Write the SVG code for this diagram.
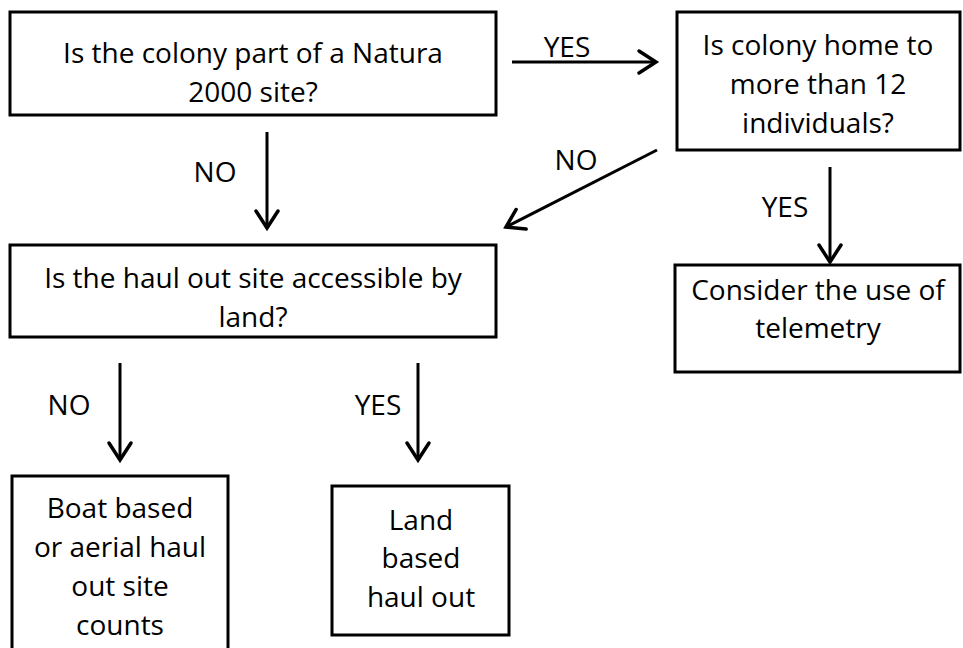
<svg xmlns="http://www.w3.org/2000/svg" width="963" height="648" viewBox="0 0 963 648">
<style>
.box{fill:#fff;stroke:#000;stroke-width:3}
.t{font-family:"Open Sans","Liberation Sans",sans-serif;font-size:28px;fill:#000;text-anchor:middle}
.c{stroke:#000;stroke-width:3;fill:none;marker-end:url(#ah)}
</style>
<defs>
<marker id="ah" markerUnits="userSpaceOnUse" viewBox="-22 -16 26 32" markerWidth="26" markerHeight="32" refX="0" refY="0" orient="auto">
<path d="M-17,-11 L0,0 L-17,11" fill="none" stroke="#000" stroke-width="3.5" stroke-linecap="round" stroke-linejoin="miter"/>
</marker>
</defs>
<rect width="963" height="648" fill="#fff"/>
<g id="connectors">
<line class="c" x1="512" y1="62" x2="656" y2="62"/>
<line class="c" x1="657" y1="150" x2="506" y2="227"/>
<line class="c" x1="830" y1="167" x2="830" y2="262"/>
<line class="c" x1="267" y1="132" x2="267" y2="228"/>
<line class="c" x1="120" y1="363" x2="120" y2="460"/>
<line class="c" x1="418" y1="363" x2="418" y2="460"/>
<text class="t" x="567" y="57">YES</text>
<text class="t" x="576" y="170">NO</text>
<text class="t" x="785" y="217">YES</text>
<text class="t" x="215" y="182">NO</text>
<text class="t" x="69" y="415">NO</text>
<text class="t" x="378" y="415">YES</text>
</g>
<g id="q1">
<rect class="box" x="10" y="12" width="486" height="103"/>
<text class="t" x="253" y="63">Is the colony part of a Natura</text>
<text class="t" x="253" y="102">2000 site?</text>
</g>
<g id="q2">
<rect class="box" x="677" y="12" width="283" height="138"/>
<text class="t" x="818" y="55">Is colony home to</text>
<text class="t" x="818" y="94">more than 12</text>
<text class="t" x="818" y="133">individuals?</text>
</g>
<g id="q3">
<rect class="box" x="10" y="245" width="486" height="92"/>
<text class="t" x="253" y="288">Is the haul out site accessible by</text>
<text class="t" x="253" y="327">land?</text>
</g>
<g id="boat">
<rect class="box" x="12" y="476" width="216" height="190"/>
<text class="t" x="120" y="518">Boat based</text>
<text class="t" x="120" y="557">or aerial haul</text>
<text class="t" x="120" y="596">out site</text>
<text class="t" x="120" y="635">counts</text>
</g>
<g id="land">
<rect class="box" x="332" y="486" width="177" height="149"/>
<text class="t" x="421" y="530">Land</text>
<text class="t" x="421" y="568">based</text>
<text class="t" x="421" y="607">haul out</text>
</g>
<g id="telemetry">
<rect class="box" x="675" y="265" width="285" height="107"/>
<text class="t" x="818" y="300">Consider the use of</text>
<text class="t" x="818" y="338">telemetry</text>
</g>
</svg>
